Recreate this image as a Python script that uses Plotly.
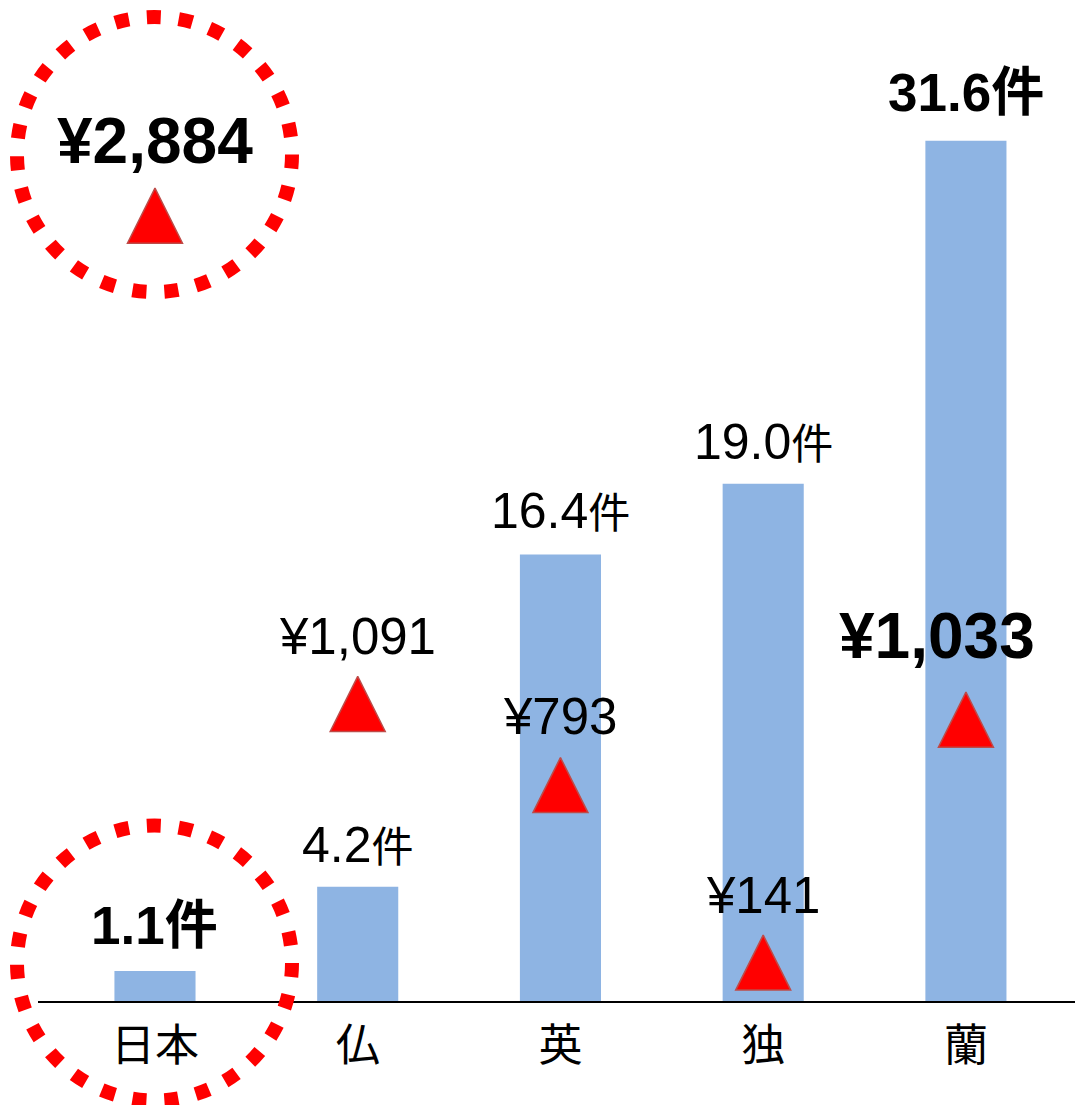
import plotly.graph_objects as go

# ---- data ----
categories = ["日本", "仏", "英", "独", "蘭"]
cases = [1.1, 4.2, 16.4, 19.0, 31.6]          # 件 (bars)
yen = [2884, 1091, 793, 141, 1033]             # ¥ (triangles)
bold_cases = [True, False, False, False, True]
bold_yen = [True, False, False, False, True]

FONT = "Arial, 'Liberation Sans', 'Noto Sans CJK JP', sans-serif"
W, H = 1075, 1105
ML, MR, MT, MB = 38, 0, 0, 104
PW, PH = W - ML - MR, H - MT - MB

fig = go.Figure()
fig.add_trace(go.Bar(
    x=categories, y=cases, width=0.4, yaxis="y",
    marker=dict(color="#8EB4E3", line=dict(width=0)),
    hoverinfo="skip",
))
fig.add_trace(go.Scatter(
    x=categories, y=yen, mode="markers", yaxis="y2",
    marker=dict(symbol="arrow-up", size=55, color="#FF0000",
                line=dict(color="#BE4B48", width=1.5)),
    hoverinfo="skip",
))

annotations = []
case_shift = [46, 42, 44, 42, 48]
for c, v, b, s in zip(categories, cases, bold_cases, case_shift):
    if b:
        txt = f"<b>{v:.1f}件</b>"
        fnt = dict(family=FONT, size=53, color="black")
    else:
        txt = f"{v:.1f}<span style='font-size:42px'>件</span>"
        fnt = dict(family=FONT, size=50, color="black")
    annotations.append(dict(x=c, y=v, xref="x", yref="y", text=txt, showarrow=False,
                            yanchor="middle", xanchor="center", yshift=s, font=fnt))

yen_shift = [47, 40, 41, 40, 56]
yen_xshift = [0, 0, 0, 0, -29]
for c, v, b, s, xs in zip(categories, yen, bold_yen, yen_shift, yen_xshift):
    if b:
        txt = f"<b>¥{v:,}</b>"
        fnt = dict(family=FONT, size=64, color="black")
    else:
        txt = f"¥{v:,}"
        fnt = dict(family=FONT, size=51, color="black")
    annotations.append(dict(x=c, y=v, xref="x", yref="y2", text=txt, showarrow=False,
                            yanchor="middle", xanchor="center", yshift=s, xshift=xs, font=fnt))


def px_to_paper_x(px):
    return (px - ML) / PW


def px_to_paper_y(py):
    return (MT + PH - py) / PH


shapes = []
R = 137.5
for cx, cy in [(154.5, 154.5), (154.5, 963)]:
    shapes.append(dict(
        type="circle", xref="paper", yref="paper", layer="above",
        x0=px_to_paper_x(cx - R), x1=px_to_paper_x(cx + R),
        y0=px_to_paper_y(cy + R), y1=px_to_paper_y(cy - R),
        line=dict(color="#FF0000", width=14, dash="14px,18px"),
        fillcolor="rgba(0,0,0,0)",
    ))

fig.update_layout(
    width=W, height=H,
    margin=dict(l=ML, r=MR, t=MT, b=MB, pad=0),
    paper_bgcolor="white", plot_bgcolor="white",
    showlegend=False,
    xaxis=dict(
        type="category", range=[-0.577, 4.538],
        showline=True, linecolor="black", linewidth=2,
        ticks="", showgrid=False, zeroline=False, ticklabelstandoff=5,
        tickfont=dict(family=FONT, size=44, color="black"),
    ),
    yaxis=dict(range=[0, 36.77], visible=False, showgrid=False),
    yaxis2=dict(range=[-101, 3575], overlaying="y", visible=False, showgrid=False),
    annotations=annotations,
    shapes=shapes,
)

fig.write_html("out.html", config={"displayModeBar": False},
               post_script="document.body.style.margin='0px';")
